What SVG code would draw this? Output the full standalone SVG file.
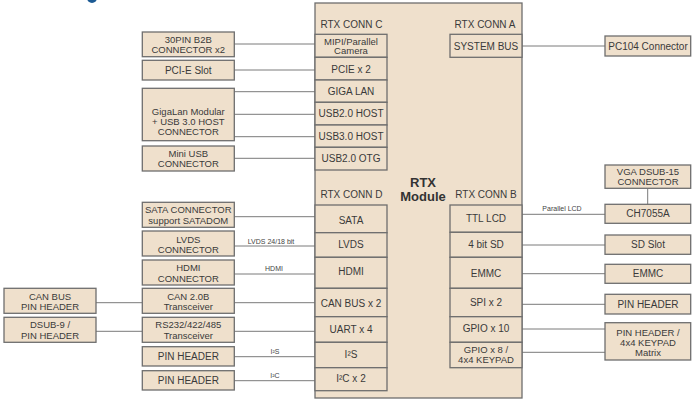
<svg xmlns="http://www.w3.org/2000/svg" width="697" height="405" viewBox="0 0 697 405">
<style>
.b{fill:#efe0cc;stroke:#6e6e6e;stroke-width:1.3}
.t{font-family:"Liberation Sans",Arial,sans-serif;font-size:10px;fill:#3a3a3a;text-anchor:middle}
.m{font-family:"Liberation Sans",Arial,sans-serif;font-size:9.5px;fill:#3a3a3a;text-anchor:middle}
.s{font-family:"Liberation Sans",Arial,sans-serif;font-size:7px;fill:#444;text-anchor:middle}
.h{font-family:"Liberation Sans",Arial,sans-serif;font-size:13px;font-weight:bold;fill:#333;text-anchor:middle}
.c{stroke:#7a7a7a;stroke-width:1;fill:none}
</style>
<rect width="697" height="405" fill="#fff"/>
<ellipse cx="92" cy="-2" rx="5" ry="5" fill="#1c5a94"/>
<g id="connectors">
<line class="c" x1="234" y1="44" x2="315" y2="44"/>
<line class="c" x1="234" y1="70" x2="315" y2="70"/>
<line class="c" x1="234" y1="91.7" x2="315" y2="91.7"/>
<line class="c" x1="234" y1="114.3" x2="315" y2="114.3"/>
<line class="c" x1="234" y1="136.7" x2="315" y2="136.7"/>
<line class="c" x1="234" y1="158.3" x2="315" y2="158.3"/>
<line class="c" x1="522" y1="46" x2="605" y2="46"/>
<line class="c" x1="234" y1="216.7" x2="315" y2="216.7"/>
<line class="c" x1="234" y1="246" x2="315" y2="246"/>
<line class="c" x1="234" y1="274" x2="315" y2="274"/>
<line class="c" x1="234" y1="302.7" x2="315" y2="302.7"/>
<line class="c" x1="234" y1="331.3" x2="315" y2="331.3"/>
<line class="c" x1="234" y1="356.7" x2="315" y2="356.7"/>
<line class="c" x1="234" y1="380.7" x2="315" y2="380.7"/>
<line class="c" x1="96" y1="302.7" x2="142" y2="302.7"/>
<line class="c" x1="96" y1="331.3" x2="142" y2="331.3"/>
<line class="c" x1="522" y1="214.3" x2="605" y2="214.3"/>
<line class="c" x1="647.7" y1="188.3" x2="647.7" y2="204.3"/>
<line class="c" x1="522" y1="245" x2="605" y2="245"/>
<line class="c" x1="522" y1="273.7" x2="605" y2="273.7"/>
<line class="c" x1="522" y1="304.3" x2="605" y2="304.3"/>
<line class="c" x1="522" y1="329" x2="605" y2="329"/>
<line class="c" x1="522" y1="352.3" x2="605" y2="352.3"/>
<text class="s" x="271" y="244.2">LVDS 24/18 bit</text>
<text class="s" x="274" y="271">HDMI</text>
<text class="s" x="275" y="354">I²S</text>
<text class="s" x="275" y="377.7">I²C</text>
<text class="s" x="562" y="211">Parallel LCD</text>
</g>
<g id="rtx-module">
<rect class="b" x="315" y="3" width="207" height="395"/>
<text class="t" x="351.5" y="27.5">RTX CONN C</text>
<text class="t" x="485" y="27.5">RTX CONN A</text>
<text class="t" x="351.5" y="197.5">RTX CONN D</text>
<text class="t" x="486" y="197.5">RTX CONN B</text>
<text class="h" x="423" y="186.5">RTX</text>
<text class="h" x="423" y="200.5">Module</text>
</g>
<g id="conn-c-mipi"><rect class="b" x="315" y="34.3" width="72" height="23"/><text class="m" x="351" y="44.6" font-size="8.5px">MIPI/Parallel</text><text class="m" x="351" y="54.4" font-size="8.5px">Camera</text></g>
<g id="conn-c-pcie"><rect class="b" x="315" y="57.3" width="72" height="22.7"/><text class="t" x="351" y="72.5">PCIE x 2</text></g>
<g id="conn-c-gigalan"><rect class="b" x="315" y="80" width="72" height="22.3"/><text class="t" x="351" y="95.2">GIGA LAN</text></g>
<g id="conn-c-usb2host"><rect class="b" x="315" y="102.3" width="72" height="22.7"/><text class="t" x="351" y="117">USB2.0 HOST</text></g>
<g id="conn-c-usb3host"><rect class="b" x="315" y="125" width="72" height="22.3"/><text class="t" x="351" y="139.5">USB3.0 HOST</text></g>
<g id="conn-c-usb2otg"><rect class="b" x="315" y="147.3" width="72" height="22.7"/><text class="t" x="351" y="162">USB2.0 OTG</text></g>
<g id="conn-a-sysbus"><rect class="b" x="450" y="34.3" width="72" height="23"/><text class="t" x="486" y="50.2">SYSTEM BUS</text></g>
<g id="pc104"><rect class="b" x="605" y="36" width="85.7" height="20"/><text class="t" x="648" y="49.5">PC104 Connector</text></g>
<g id="b2b"><rect class="b" x="142.3" y="32" width="92" height="24.7"/><text class="m" x="188.3" y="43.3">30PIN B2B</text><text class="m" x="188.3" y="53.3">CONNECTOR x2</text></g>
<g id="pcie-slot"><rect class="b" x="142.3" y="60.3" width="92" height="19.7"/><text class="t" x="188.3" y="73.5">PCI-E Slot</text></g>
<g id="gigalan-mod"><rect class="b" x="142.3" y="88.3" width="92" height="52.4"/><text class="m" x="188.3" y="114.5">GigaLan Modular</text><text class="m" x="188.3" y="124.7">+ USB 3.0 HOST</text><text class="m" x="188.3" y="134.9">CONNECTOR</text></g>
<g id="miniusb"><rect class="b" x="142.3" y="146" width="92" height="25"/><text class="m" x="188.3" y="157">Mini USB</text><text class="m" x="188.3" y="167">CONNECTOR</text></g>
<g id="sata-conn"><rect class="b" x="142.3" y="202.3" width="92" height="25"/><text class="m" x="188.3" y="213.3">SATA CONNECTOR</text><text class="m" x="188.3" y="223.5">support SATADOM</text></g>
<g id="lvds-conn"><rect class="b" x="142.3" y="231" width="92" height="25"/><text class="m" x="188.3" y="242.5">LVDS</text><text class="m" x="188.3" y="252.7">CONNECTOR</text></g>
<g id="hdmi-conn"><rect class="b" x="142.3" y="260" width="92" height="25"/><text class="m" x="188.3" y="271.3">HDMI</text><text class="m" x="188.3" y="281.5">CONNECTOR</text></g>
<g id="can-trx"><rect class="b" x="142.3" y="288.3" width="92" height="25"/><text class="m" x="188.3" y="299.8">CAN 2.0B</text><text class="m" x="188.3" y="310">Transceiver</text></g>
<g id="rs232-trx"><rect class="b" x="142.3" y="317.3" width="92" height="25"/><text class="m" x="188.3" y="328.3">RS232/422/485</text><text class="m" x="188.3" y="338.5">Transceiver</text></g>
<g id="pinheader-i2s"><rect class="b" x="142.3" y="346.7" width="92" height="19.3"/><text class="t" x="188.3" y="359.5">PIN HEADER</text></g>
<g id="pinheader-i2c"><rect class="b" x="142.3" y="370.7" width="92" height="19.3"/><text class="t" x="188.3" y="383.5">PIN HEADER</text></g>
<g id="canbus-header"><rect class="b" x="4" y="288.3" width="92" height="25"/><text class="m" x="50" y="299.8">CAN BUS</text><text class="m" x="50" y="310">PIN HEADER</text></g>
<g id="dsub9"><rect class="b" x="4" y="317.3" width="92" height="25"/><text class="m" x="50" y="328.3">DSUB-9 /</text><text class="m" x="50" y="338.5">PIN HEADER</text></g>
<g id="conn-d-sata"><rect class="b" x="315" y="205" width="72" height="27.7"/><text class="t" x="351" y="223.5">SATA</text></g>
<g id="conn-d-lvds"><rect class="b" x="315" y="232.7" width="72" height="24.6"/><text class="t" x="351" y="247.5">LVDS</text></g>
<g id="conn-d-hdmi"><rect class="b" x="315" y="257.3" width="72" height="31"/><text class="t" x="351" y="275">HDMI</text></g>
<g id="conn-d-can"><rect class="b" x="315" y="288.3" width="72" height="28.4"/><text class="t" x="351" y="306.8">CAN BUS x 2</text></g>
<g id="conn-d-uart"><rect class="b" x="315" y="316.7" width="72" height="25.6"/><text class="t" x="351" y="332.8">UART x 4</text></g>
<g id="conn-d-i2s"><rect class="b" x="315" y="342.3" width="72" height="25.4"/><text class="t" x="351" y="357.8">I²S</text></g>
<g id="conn-d-i2c"><rect class="b" x="315" y="367.7" width="72" height="23"/><text class="t" x="351" y="381.8">I²C x 2</text></g>
<g id="conn-b-ttl"><rect class="b" x="450" y="205" width="72" height="27.3"/><text class="t" x="486" y="221.8">TTL LCD</text></g>
<g id="conn-b-sd"><rect class="b" x="450" y="232.3" width="72" height="25"/><text class="t" x="486" y="247.5">4 bit SD</text></g>
<g id="conn-b-emmc"><rect class="b" x="450" y="257.3" width="72" height="31"/><text class="t" x="486" y="276.8">EMMC</text></g>
<g id="conn-b-spi"><rect class="b" x="450" y="288.3" width="72" height="28.4"/><text class="t" x="486" y="305.8">SPI x 2</text></g>
<g id="conn-b-gpio10"><rect class="b" x="450" y="316.7" width="72" height="25.6"/><text class="t" x="486" y="331.8">GPIO x 10</text></g>
<g id="conn-b-gpio8"><rect class="b" x="450" y="342.3" width="72" height="25.4"/><text class="m" x="486" y="353.2">GPIO x 8 /</text><text class="m" x="486" y="363.2">4x4 KEYPAD</text></g>
<g id="vga"><rect class="b" x="605" y="165" width="85.7" height="23.3"/><text class="m" x="648" y="175">VGA DSUB-15</text><text class="m" x="648" y="185">CONNECTOR</text></g>
<g id="ch7055a"><rect class="b" x="605" y="204.3" width="85.7" height="19"/><text class="t" x="648" y="216.8">CH7055A</text></g>
<g id="sd-slot"><rect class="b" x="605" y="235" width="85.7" height="19.3"/><text class="t" x="648" y="247.8">SD Slot</text></g>
<g id="emmc"><rect class="b" x="605" y="264.3" width="85.7" height="19"/><text class="t" x="648" y="277.2">EMMC</text></g>
<g id="pinheader-spi"><rect class="b" x="605" y="294.3" width="85.7" height="19.7"/><text class="t" x="648" y="307.5">PIN HEADER</text></g>
<g id="keypad"><rect class="b" x="605" y="322.7" width="85.7" height="37.3"/><text class="m" x="648" y="335.5" font-size="9px">PIN HEADER /</text><text class="m" x="648" y="345.5" font-size="9px">4x4 KEYPAD</text><text class="m" x="648" y="355.5" font-size="9px">Matrix</text></g>
</svg>
